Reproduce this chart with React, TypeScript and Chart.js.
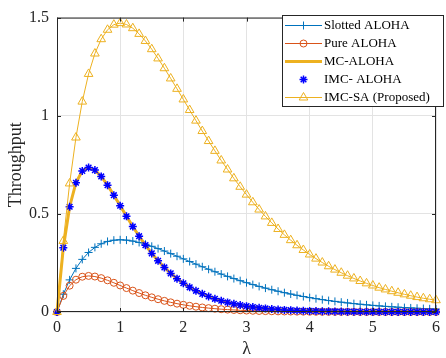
import React, { useEffect, useRef } from 'react';
import { Chart, registerables } from 'chart.js';
import { drawPoint } from 'chart.js/helpers';

Chart.register(...registerables);

const lambdaValues = [
  0, 0.1, 0.2, 0.3, 0.4, 0.5, 0.6, 0.7, 0.8, 0.9,
  1.0, 1.1, 1.2, 1.3, 1.4, 1.5, 1.6, 1.7, 1.8, 1.9,
  2.0, 2.1, 2.2, 2.3, 2.4, 2.5, 2.6, 2.7, 2.8, 2.9,
  3.0, 3.1, 3.2, 3.3, 3.4, 3.5, 3.6, 3.7, 3.8, 3.9,
  4.0, 4.1, 4.2, 4.3, 4.4, 4.5, 4.6, 4.7, 4.8, 4.9,
  5.0, 5.1, 5.2, 5.3, 5.4, 5.5, 5.6, 5.7, 5.8, 5.9, 6.0,
];

const slottedAloha = [
  0, 0.0905, 0.1637, 0.2222, 0.2681, 0.3033, 0.3293, 0.3476, 0.3595, 0.3659,
  0.3679, 0.3662, 0.3614, 0.3543, 0.3452, 0.3347, 0.3230, 0.3106, 0.2975, 0.2842,
  0.2707, 0.2572, 0.2438, 0.2306, 0.2177, 0.2052, 0.1931, 0.1815, 0.1703, 0.1596,
  0.1494, 0.1397, 0.1304, 0.1217, 0.1135, 0.1057, 0.0984, 0.0915, 0.0850, 0.0789,
  0.0733, 0.0679, 0.0630, 0.0583, 0.0540, 0.0500, 0.0462, 0.0427, 0.0395, 0.0365,
  0.0337, 0.0311, 0.0287, 0.0265, 0.0244, 0.0225, 0.0207, 0.0191, 0.0176, 0.0162, 0.0149,
];

const pureAloha = [
  0, 0.0819, 0.1341, 0.1646, 0.1797, 0.1839, 0.1807, 0.1726, 0.1615, 0.1488,
  0.1353, 0.1219, 0.1089, 0.0966, 0.0851, 0.0747, 0.0652, 0.0567, 0.0492, 0.0425,
  0.0366, 0.0315, 0.0270, 0.0231, 0.0198, 0.0168, 0.0143, 0.0122, 0.0104, 0.0088,
  0.0074, 0.0063, 0.0053, 0.0045, 0.0038, 0.0032, 0.0027, 0.0023, 0.0019, 0.0016,
  0.0013, 0.0011, 0.0009, 0.0008, 0.0007, 0.0006, 0.0005, 0.0004, 0.0003, 0.0003,
  0.0002, 0.0002, 0.0002, 0.0001, 0.0001, 0.0001, 0.0001, 0.0001, 0.0001, 0.0001, 0.0000,
];

const mcAloha = [
  0, 0.3275, 0.5363, 0.6586, 0.7189, 0.7358, 0.7229, 0.6905, 0.6461, 0.5951,
  0.5413, 0.4875, 0.4354, 0.3862, 0.3405, 0.2987, 0.2609, 0.2269, 0.1967, 0.1700,
  0.1465, 0.1260, 0.1080, 0.0925, 0.0790, 0.0674, 0.0574, 0.0488, 0.0414, 0.0351,
  0.0297, 0.0252, 0.0213, 0.0180, 0.0151, 0.0128, 0.0108, 0.0090, 0.0076, 0.0064,
  0.0054, 0.0045, 0.0038, 0.0032, 0.0027, 0.0022, 0.0019, 0.0016, 0.0013, 0.0011,
  0.0009, 0.0008, 0.0006, 0.0005, 0.0004, 0.0004, 0.0003, 0.0003, 0.0002, 0.0002, 0.0001,
];

const imcAloha = [
  0, 0.3275, 0.5363, 0.6586, 0.7189, 0.7358, 0.7229, 0.6905, 0.6461, 0.5951,
  0.5413, 0.4875, 0.4354, 0.3862, 0.3405, 0.2987, 0.2609, 0.2269, 0.1967, 0.1700,
  0.1465, 0.1260, 0.1080, 0.0925, 0.0790, 0.0674, 0.0574, 0.0488, 0.0414, 0.0351,
  0.0297, 0.0252, 0.0213, 0.0180, 0.0151, 0.0128, 0.0108, 0.0090, 0.0076, 0.0064,
  0.0054, 0.0045, 0.0038, 0.0032, 0.0027, 0.0022, 0.0019, 0.0016, 0.0013, 0.0011,
  0.0009, 0.0008, 0.0006, 0.0005, 0.0004, 0.0004, 0.0003, 0.0003, 0.0002, 0.0002, 0.0001,
];

const imcSa = [
  0, 0.362, 0.655, 0.889, 1.072, 1.213, 1.317, 1.390, 1.438, 1.464,
  1.472, 1.465, 1.446, 1.417, 1.381, 1.339, 1.292, 1.242, 1.190, 1.137,
  1.083, 1.029, 0.975, 0.922, 0.871, 0.821, 0.772, 0.726, 0.681, 0.638,
  0.598, 0.559, 0.522, 0.487, 0.454, 0.423, 0.393, 0.366, 0.340, 0.316,
  0.293, 0.272, 0.252, 0.233, 0.216, 0.200, 0.185, 0.171, 0.158, 0.146,
  0.135, 0.124, 0.115, 0.106, 0.098, 0.090, 0.083, 0.076, 0.070, 0.065, 0.060,
];

const seriesLabels = ['Slotted ALOHA', 'Pure ALOHA', 'MC-ALOHA', 'IMC- ALOHA', 'IMC-SA (Proposed)'];
const xTicks = [0, 1, 2, 3, 4, 5, 6];
const yTicks = [0, 0.5, 1, 1.5];
const yTickLabels = ['0', '0.5', '1', '1.5'];
const xTitle = 'λ';
const yTitle = 'Throughput';

const SERIF = '"Liberation Serif", "Times New Roman", serif';
const AXIS = '#262626';

const pts = (ys: number[]) => lambdaValues.map((x, i) => ({ x, y: ys[i] }));

const framePlugin = {
  id: 'frame',
  afterDatasetsDraw(chart: any) {
    const { ctx, chartArea, scales } = chart;
    const { left, right, top, bottom } = chartArea;
    ctx.save();
    ctx.strokeStyle = AXIS;
    ctx.lineWidth = 1;
    ctx.strokeRect(left + 0.5, top + 0.5, right - left - 1, bottom - top - 1);
    const L = 4;
    ctx.beginPath();
    xTicks.forEach((v) => {
      const x = Math.round(scales.x.getPixelForValue(v)) + 0.5;
      ctx.moveTo(x, bottom);
      ctx.lineTo(x, bottom - L);
      ctx.moveTo(x, top);
      ctx.lineTo(x, top + L);
    });
    yTicks.forEach((v) => {
      const y = Math.round(scales.y.getPixelForValue(v)) + 0.5;
      ctx.moveTo(left, y);
      ctx.lineTo(left + L, y);
      ctx.moveTo(right, y);
      ctx.lineTo(right - L, y);
    });
    ctx.stroke();
    ctx.restore();
  },
};

const legendPlugin = {
  id: 'boxLegend',
  afterDraw(chart: any) {
    const { ctx } = chart;
    const x0 = 282;
    const y0 = 15;
    const w = 161;
    const h = 91;
    ctx.save();
    ctx.fillStyle = '#ffffff';
    ctx.fillRect(x0, y0, w, h);
    ctx.strokeStyle = AXIS;
    ctx.lineWidth = 1;
    ctx.strokeRect(x0 + 0.5, y0 + 0.5, w, h);
    chart.data.datasets.forEach((ds: any, i: number) => {
      const y = y0 + 10.5 + i * 18;
      if (ds.showLine !== false) {
        ctx.strokeStyle = ds.borderColor;
        ctx.lineWidth = ds.borderWidth;
        ctx.beginPath();
        ctx.moveTo(x0 + 3, y);
        ctx.lineTo(x0 + 40, y);
        ctx.stroke();
      }
      if (ds.pointRadius > 0) {
        ctx.strokeStyle = ds.pointBorderColor;
        ctx.fillStyle = 'rgba(0,0,0,0)';
        ctx.lineWidth = ds.pointBorderWidth;
        drawPoint(ctx, { pointStyle: ds.pointStyle, radius: ds.pointRadius, borderWidth: ds.pointBorderWidth, rotation: 0 } as any, x0 + 21.5, y);
      }
      ctx.fillStyle = '#000000';
      ctx.font = '13px ' + SERIF;
      ctx.textAlign = 'left';
      ctx.textBaseline = 'middle';
      ctx.fillText(ds.label, x0 + 42, y + 0.5);
    });
    ctx.restore();
  },
};

export default function App() {
  const ref = useRef<HTMLCanvasElement | null>(null);

  useEffect(() => {
    document.body.style.margin = '0';
    const canvas = ref.current;
    if (!canvas) return;
    const chart = new Chart(canvas, {
      type: 'line',
      data: {
        datasets: [
          {
            label: seriesLabels[0],
            data: pts(slottedAloha),
            borderColor: '#0072BD',
            borderWidth: 1,
            pointStyle: 'cross',
            pointRadius: 4,
            pointBorderWidth: 1,
            pointBorderColor: '#0072BD',
            pointBackgroundColor: 'rgba(0,0,0,0)',
            order: 5,
            clip: false,
          },
          {
            label: seriesLabels[1],
            data: pts(pureAloha),
            borderColor: '#D95319',
            borderWidth: 1,
            pointStyle: 'circle',
            pointRadius: 3.5,
            pointBorderWidth: 1,
            pointBorderColor: '#D95319',
            pointBackgroundColor: 'rgba(0,0,0,0)',
            order: 4,
            clip: false,
          },
          {
            label: seriesLabels[2],
            data: pts(mcAloha),
            borderColor: '#EDB120',
            borderWidth: 3,
            pointRadius: 0,
            order: 3,
            clip: false,
          },
          {
            label: seriesLabels[3],
            data: pts(imcAloha),
            showLine: false,
            borderColor: '#0000FF',
            pointStyle: 'star',
            pointRadius: 4,
            pointBorderWidth: 1.5,
            pointBorderColor: '#0000FF',
            pointBackgroundColor: 'rgba(0,0,0,0)',
            order: 2,
            clip: false,
          },
          {
            label: seriesLabels[4],
            data: pts(imcSa),
            borderColor: '#EDB120',
            borderWidth: 1,
            pointStyle: 'triangle',
            pointRadius: 5,
            pointBorderWidth: 1,
            pointBorderColor: '#EDB120',
            pointBackgroundColor: 'rgba(0,0,0,0)',
            order: 1,
            clip: false,
          },
        ],
      },
      options: {
        animation: false,
        responsive: false,
        devicePixelRatio: 1,
        layout: { padding: { top: 15, right: 2, left: 0, bottom: 0 } },
        plugins: { legend: { display: false }, tooltip: { enabled: false } },
        elements: { line: { tension: 0 } },
        scales: {
          x: {
            type: 'linear',
            min: 0,
            max: 6,
            afterFit: (s: any) => { s.height = 46; },
            afterBuildTicks: (s: any) => { s.ticks = xTicks.map((v) => ({ value: v })); },
            ticks: {
              autoSkip: false,
              maxRotation: 0,
              padding: 6,
              color: AXIS,
              font: { family: SERIF, size: 16 },
              callback: (v: any) => String(v),
            },
            grid: { color: '#e3e3e3', drawTicks: false, lineWidth: 1 },
            border: { display: false },
            title: {
              display: true,
              text: xTitle,
              color: AXIS,
              font: { family: SERIF, size: 18, lineHeight: 1 },
              padding: { top: 0, bottom: 0 },
            },
          },
          y: {
            type: 'linear',
            min: 0,
            max: 1.5,
            afterFit: (s: any) => { s.width = 57; },
            afterBuildTicks: (s: any) => { s.ticks = yTicks.map((v) => ({ value: v })); },
            ticks: {
              autoSkip: false,
              padding: 8,
              color: AXIS,
              font: { family: SERIF, size: 16 },
              callback: (v: any) => yTickLabels[yTicks.indexOf(Number(v))] ?? String(v),
            },
            grid: { color: '#e3e3e3', drawTicks: false, lineWidth: 1 },
            border: { display: false },
            title: {
              display: true,
              text: yTitle,
              color: AXIS,
              font: { family: SERIF, size: 18, lineHeight: 1 },
              padding: { top: 7, bottom: 0 },
            },
          },
        },
      },
      plugins: [framePlugin, legendPlugin],
    } as any);
    return () => chart.destroy();
  }, []);

  return (
    <div style={{ width: 446, height: 358 }}>
      <canvas ref={ref} width={446} height={358} style={{ display: 'block', width: 446, height: 358 }} />
    </div>
  );
}
